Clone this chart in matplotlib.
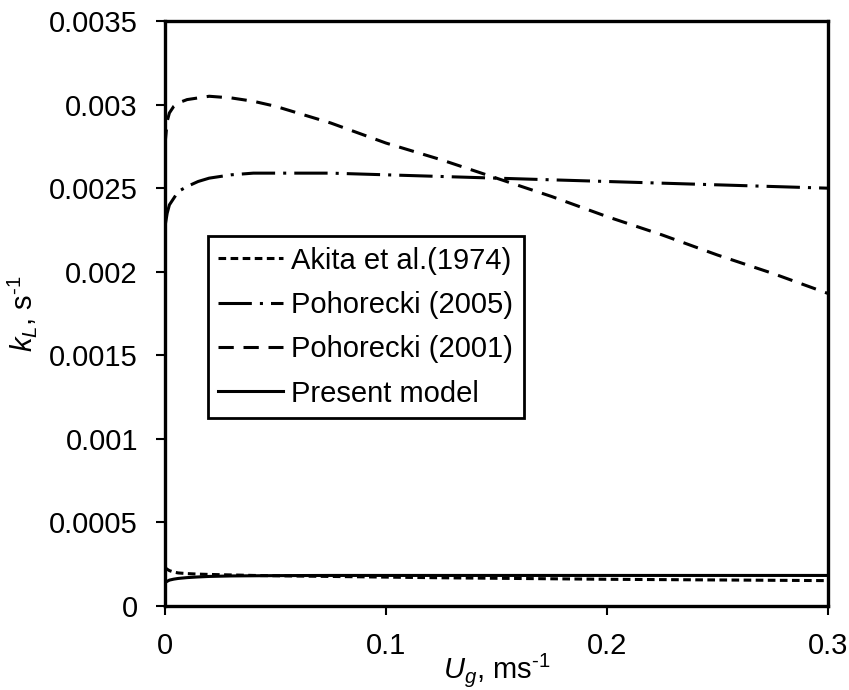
import matplotlib
matplotlib.use("Agg")
import matplotlib.pyplot as plt

plt.rcParams["font.family"] = ["Liberation Sans", "DejaVu Sans"]
plt.rcParams["mathtext.fontset"] = "custom"
plt.rcParams["mathtext.rm"] = "Liberation Sans"
plt.rcParams["mathtext.it"] = "Liberation Sans:italic"
plt.rcParams["lines.scale_dashes"] = False

# superficial gas velocity, m/s
ug = [0, 0.001, 0.002, 0.004, 0.006, 0.01, 0.015, 0.02, 0.03, 0.04, 0.05,
      0.075, 0.1, 0.125, 0.15, 0.175, 0.2, 0.225, 0.25, 0.275, 0.3]

# kL, 1/s
akita_1974 = [0.00023, 0.00022, 0.000212, 0.000203, 0.000198, 0.000194, 0.000191,
              0.000189, 0.000186, 0.000183, 0.000181, 0.000177, 0.000173, 0.000169,
              0.000166, 0.000163, 0.00016, 0.000158, 0.000156, 0.000154, 0.000152]
pohorecki_2005 = [0.00227, 0.00235, 0.0024, 0.00244, 0.00248, 0.00251, 0.00254,
                  0.00256, 0.00258, 0.00259, 0.00259, 0.00259, 0.00258, 0.00257,
                  0.00256, 0.00255, 0.00254, 0.00253, 0.00252, 0.00251, 0.0025]
pohorecki_2001 = [0.00276, 0.0029, 0.00295, 0.00299, 0.00301, 0.00303, 0.00304,
                  0.00305, 0.00304, 0.00302, 0.00299, 0.00289, 0.00277, 0.00267,
                  0.00256, 0.00245, 0.00233, 0.00222, 0.0021, 0.00199, 0.00187]
present_model = [0.00014, 0.000148, 0.000155, 0.000161, 0.000165, 0.00017, 0.000174,
                 0.000177, 0.00018, 0.000181, 0.000182, 0.000183, 0.000183, 0.000183,
                 0.000183, 0.000183, 0.000183, 0.000183, 0.000183, 0.000183, 0.000183]

x_ticks = [0, 0.1, 0.2, 0.3]
x_tick_labels = ["0", "0.1", "0.2", "0.3"]
y_ticks = [0, 0.0005, 0.001, 0.0015, 0.002, 0.0025, 0.003, 0.0035]
y_tick_labels = ["0", "0.0005", "0.001", "0.0015", "0.002", "0.0025", "0.003", "0.0035"]

fs = 21

fig = plt.figure(figsize=(8.49, 6.9), dpi=100)
ax = fig.add_axes([0.1943, 0.1217, 0.7810, 0.8478])

lw = 2.2
ax.plot(ug, akita_1974, color="black", lw=lw, dashes=(5.5, 3.2), label="Akita et al.(1974)")
ax.plot(ug, pohorecki_2005, color="black", lw=lw, dashes=(24, 5.8, 2.2, 5.8), label="Pohorecki (2005)")
ax.plot(ug, pohorecki_2001, color="black", lw=lw, dashes=(11, 7), label="Pohorecki (2001)")
ax.plot(ug, present_model, color="black", lw=lw, label="Present model")

ax.set_xlim(0, 0.3)
ax.set_ylim(0, 0.0035)
ax.set_xticks(x_ticks)
ax.set_xticklabels(x_tick_labels)
ax.set_yticks(y_ticks)
ax.set_yticklabels(y_tick_labels)
ax.tick_params(labelsize=fs, direction="out", length=6.5, width=1.5)
ax.tick_params(axis="x", pad=12)
ax.tick_params(axis="y", pad=13)
for s in ax.spines.values():
    s.set_linewidth(2.4)

ax.set_xlabel(r"$U_g$, ms$^{\text{-1}}$", fontsize=fs, labelpad=-6)
ax.set_ylabel(r"$k_L$, s$^{\text{-1}}$", fontsize=fs, labelpad=7)

leg = ax.legend(loc="upper left", bbox_to_anchor=(0.0649, 0.6325), fontsize=fs,
                handlelength=2.2, handletextpad=0.3, labelspacing=0.56,
                borderpad=0.36, borderaxespad=0, fancybox=False, framealpha=1,
                edgecolor="black")
leg.get_frame().set_linewidth(2.0)

fig.savefig("out.png", dpi=100)
